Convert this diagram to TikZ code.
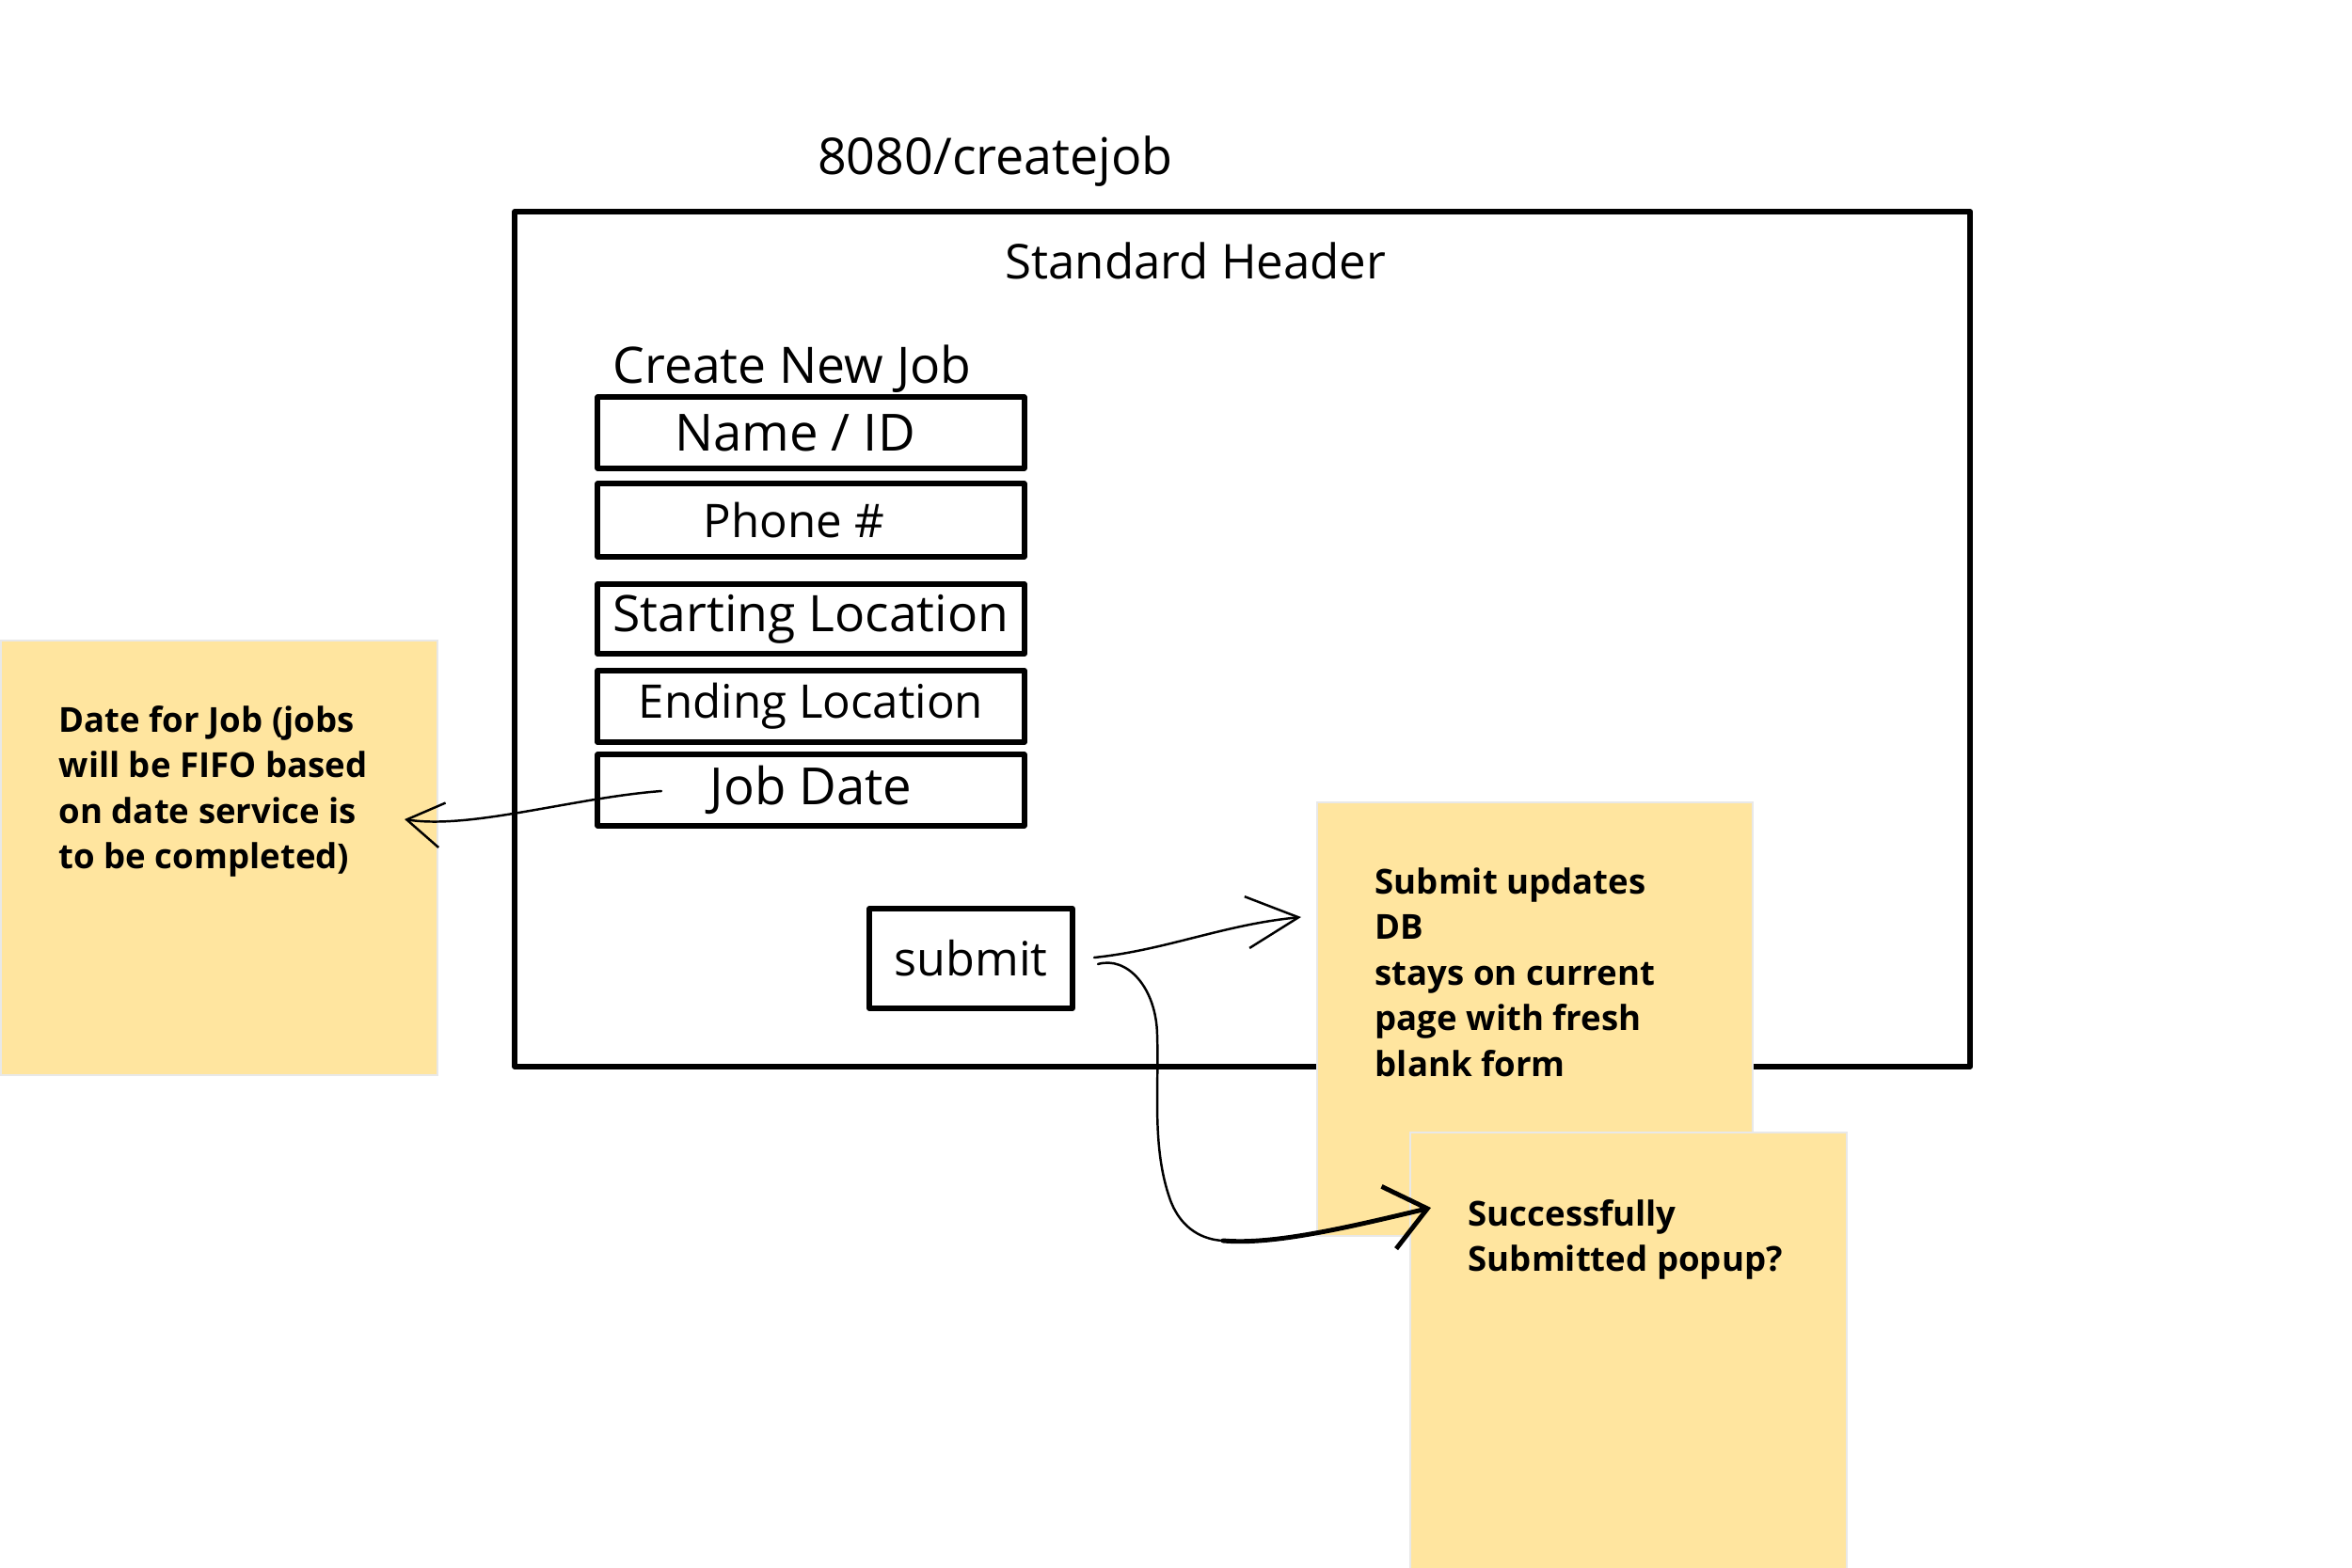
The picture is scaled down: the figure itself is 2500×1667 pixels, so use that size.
\documentclass[tikz,border=0pt]{standalone}
\usepackage{fontspec}
\setmainfont{Open Sans}
\newfontfamily\handfont{Open Sans}
\usetikzlibrary{arrows.meta}
\definecolor{notey}{RGB}{255,229,159}
\definecolor{noteedge}{RGB}{232,232,232}
\newcommand{\fsz}[1]{\fontsize{#1}{#1}\selectfont}
\begin{document}
\begin{tikzpicture}[x=0.01cm,y=-0.01cm,
  frame/.style={draw, line width=1.8pt, line join=round, line cap=round},
  field/.style={draw, line width=1.7pt, rectangle, line join=round, minimum width=4.53cm, inner sep=0pt, font=\handfont\fsz{14.5}},
  hand/.style={inner sep=0pt, anchor=base, font=\handfont},
  note/.style={fill=notey, draw=noteedge, line width=0.6pt, rectangle, inner sep=0pt, anchor=north west},
  notetext/.style={anchor=base west, inner sep=0pt, font=\bfseries\fontsize{10.4}{13.8}\selectfont},
  thinarrow/.style={line width=0.7pt, line cap=round},
  thickarrow/.style={line width=1.4pt, line cap=round, line join=round}
]
\useasboundingbox (0,0) rectangle (2500,1667);

% title
\node[hand, font=\handfont\fsz{15.3}] (url) at (1058,186) {8080/createjob};

% page frame
\node[frame, rectangle, minimum width=15.46cm, minimum height=9.08cm, anchor=north west] (page) at (544,222) {};

\node[hand, font=\handfont\fsz{14.5}] (hdr) at (1271,297) {Standard Header};
\node[hand, font=\handfont\fsz{15.2}] (cnj) at (842,408) {Create New Job};

% fields
\node[field, minimum height=0.75cm, font=\handfont\fsz{15.5}] (name) at (862,460) {\hspace*{-0.34cm}Name / ID};
\node[field, minimum height=0.77cm, font=\handfont\fsz{14}] (phone) at (862,553) {\hspace*{-0.36cm}Phone \#};
\node[field, minimum height=0.74cm, font=\handfont\fsz{15.2}] (start) at (862,658) {Starting Location};
\node[field, minimum height=0.76cm, font=\handfont\fsz{14}] (end) at (862,751) {Ending Location};
\node[field, minimum height=0.75cm, font=\handfont\fsz{15.5}] (jobdate) at (862,840) {Job Date};

% submit
\node[field, minimum width=2.15cm, minimum height=1.06cm, font=\handfont\fsz{14.3}] (submit) at (1032,1019) {submit};

% sticky notes
\node[note, minimum width=4.64cm, minimum height=4.62cm] (noteL) at (0,680) {};
\node[notetext] (noteLtxt) at (62,778) {\begin{tabular}[t]{@{}l@{}}Date for Job (jobs\\will be FIFO based\\on date service is\\to be completed)\end{tabular}};

\node[note, minimum width=4.63cm, minimum height=4.61cm] (noteR) at (1399,852) {};
\node[notetext] (noteRtxt) at (1461,950) {\begin{tabular}[t]{@{}l@{}}Submit updates\\DB\\stays on current\\page with fresh\\blank form\end{tabular}};

\node[note, minimum width=4.64cm, minimum height=4.66cm] (notePop) at (1498,1203) {};
\node[notetext] (notePoptxt) at (1560,1303) {\begin{tabular}[t]{@{}l@{}}Successfully\\Submitted popup?\end{tabular}};

% connector end points
\coordinate (jdS) at (703,841);
\coordinate (jdT) at (430,871);
\coordinate (sbS) at (1163,1018);
\coordinate (sbT) at (1383,975);
\coordinate (ppS) at (1167,1025);
\coordinate (ppM) at (1300,1319);
\coordinate (ppT) at (1521,1284);

% Job Date -> note
\draw[thinarrow, -{Straight Barb[length=0.38cm, width=0.48cm, line width=0.7pt]}]
  (jdS) .. controls (610,848) and (500,882) .. (jdT);

% submit -> note
\draw[thinarrow, -{Straight Barb[length=0.55cm, width=0.55cm, line width=0.7pt]}]
  (sbS) .. controls (1240,1010) and (1300,983) .. (sbT);

% submit -> popup
\draw[thinarrow]
  (ppS) .. controls (1198,1016) and (1229,1050) .. (1230,1100)
        .. controls (1232,1160) and (1224,1220) .. (1244,1276)
        .. controls (1256,1308) and (1280,1318) .. (ppM);
\draw[thickarrow, -{Straight Barb[length=0.42cm, width=0.68cm, line width=1.4pt]}]
  (ppM) .. controls (1355,1324) and (1440,1303) .. (ppT);
\end{tikzpicture}
\end{document}
